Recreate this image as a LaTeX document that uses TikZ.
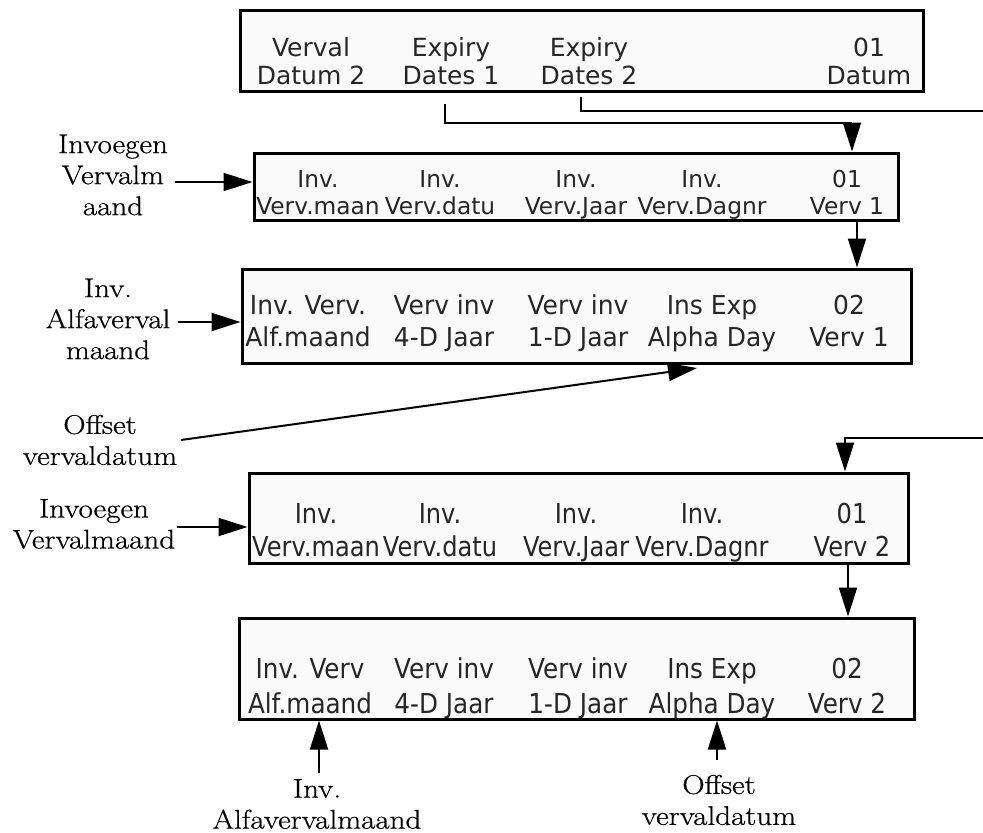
\documentclass[tikz,border=0pt]{standalone}
\usepackage{fontspec}
\setmainfont{Latin Modern Roman}[FakeStretch=1.15,FakeBold=0.6]
\newfontfamily\lcdA{DejaVu Sans}
\newfontfamily\lcdB{DejaVu Sans}
\newfontfamily\lcdC[FakeStretch=0.96]{DejaVu Sans}
\newfontfamily\lcdD[FakeStretch=0.88]{DejaVu Sans}
\newfontfamily\lcdE[FakeStretch=0.9]{DejaVu Sans}
\usetikzlibrary{arrows.meta}
\begin{document}
\begin{tikzpicture}[x=1pt,y=-1pt,
  screen/.style={draw=black, line width=3pt, fill=black!2, inner sep=0pt},
  lcd/.style={inner sep=0pt, anchor=center, text depth=0pt, text=black!85},
  fA/.style={lcd, text height=18.2pt, font=\lcdA\fontsize{25}{25}\selectfont},
  fB/.style={lcd, text height=17pt, font=\lcdB\fontsize{23.3}{23.3}\selectfont},
  fC/.style={lcd, text height=19pt, font=\lcdC\fontsize{26}{26}\selectfont},
  fD/.style={lcd, text height=20pt, font=\lcdD\fontsize{27.4}{27.4}\selectfont},
  fE/.style={lcd, text height=20pt, font=\lcdE\fontsize{27.4}{27.4}\selectfont},
  lbl/.style={align=center, inner sep=0pt, font=\fontsize{27}{31}\selectfont},
  conn/.style={line width=2pt},
  arr/.style={conn, -{Triangle[length=29pt,width=18pt]}},
]
\useasboundingbox (0,0) rectangle (983,833);

% screens
\node[screen, minimum width=683pt, minimum height=81pt] (b1) at (581.5,50.5) {};
\node[screen, minimum width=644pt, minimum height=67pt] (b2) at (576,186.5) {};
\node[screen, minimum width=669pt, minimum height=94pt] (b3) at (576.5,316) {};
\node[screen, minimum width=659pt, minimum height=90pt] (b4) at (578.5,518) {};
\node[screen, minimum width=675pt, minimum height=101pt] (b5) at (576.5,668.5) {};

% screen texts
\foreach \x/\a/\b [count=\i] in {311/Verval/Datum 2, 451/Expiry/Dates 1, 589/Expiry/Dates 2, 869/01/Datum} {
  \node[fA] (b1u\i) at (\x,47) {\a};
  \node[fA] (b1l\i) at (\x,75) {\b};
}
\foreach \x/\a/\b [count=\i] in {318/Inv./Verv.maan, 440/Inv./Verv.datu, 576/Inv./Verv.Jaar, 702/Inv./Verv.Dagnr, 847/01/Verv 1} {
  \node[fB] (b2u\i) at (\x,178.5) {\a};
  \node[fB] (b2l\i) at (\x,205.5) {\b};
}
\foreach \x/\a/\b [count=\i] in {308/Inv. Verv./Alf.maand, 444/Verv inv/4-D Jaar, 578/Verv inv/1-D Jaar, 712/Ins Exp/Alpha Day, 849/02/Verv 1} {
  \node[fC] (b3u\i) at (\x,305) {\a};
  \node[fC] (b3l\i) at (\x,337) {\b};
}
\foreach \x/\a/\b [count=\i] in {316/Inv./Verv.maan, 440/Inv./Verv.datu, 576/Inv./Verv.Jaar, 702/Inv./Verv.Dagnr, 852/01/Verv 2} {
  \node[fD] (b4u\i) at (\x,513) {\a};
  \node[fD] (b4l\i) at (\x,546) {\b};
}
\foreach \x/\a/\b [count=\i] in {310/Inv. Verv/Alf.maand, 444/Verv inv/4-D Jaar, 578/Verv inv/1-D Jaar, 712/Ins Exp/Alpha Day, 847/02/Verv 2} {
  \node[fE] (b5u\i) at (\x,668) {\a};
  \node[fE] (b5l\i) at (\x,703) {\b};
}

% labels
\node[lbl] (L2) at (113,175) {Invoegen\\Vervalm\\aand};
\node[lbl] (L3) at (108,319) {Inv.\\Alfaverval\\maand};
\node[lbl] (L3o) at (100,440) {Offset\\vervaldatum};
\node[lbl] (L4) at (94,524) {Invoegen\\Vervalmaand};
\node[lbl] (L5a) at (317,804) {Inv.\\Alfavervalmaand};
\node[lbl] (L5b) at (719,800) {Offset\\vervaldatum};

% connectors from top screen
\coordinate (sA) at (445,104);
\coordinate (kA) at (852,123);
\draw[arr] (sA) |- (kA) -- (kA |- b2.north);
\coordinate (sB) at (581,97);
\coordinate (eB) at (983,111);
\draw[conn] (sB) |- (eB);
\coordinate (sC) at (983,438);
\coordinate (kC) at (845,438);
\draw[arr] (sC) -- (kC) -- (kC |- b4.north);
\coordinate (x23) at (857,0);
\draw[arr] (x23 |- b2.south) -- (x23 |- b3.north);
\coordinate (x45) at (848,0);
\draw[arr] (x45 |- b4.south) -- (x45 |- b5.north);

% label arrows
\coordinate (t2) at (175,182);
\draw[arr] (t2) -- (t2 -| b2.west);
\coordinate (t3) at (178,322);
\draw[arr] (t3) -- (t3 -| b3.west);
\coordinate (t4) at (177,527);
\draw[arr] (t4) -- (t4 -| b4.west);
\coordinate (t3o) at (181,440);
\coordinate (h3o) at (697,368);
\draw[arr] (t3o) -- (h3o);
\coordinate (t5a) at (319,773);
\draw[arr] (t5a) -- (t5a |- b5.south);
\coordinate (t5b) at (717,760);
\draw[arr] (t5b) -- (t5b |- b5.south);
\end{tikzpicture}
\end{document}
